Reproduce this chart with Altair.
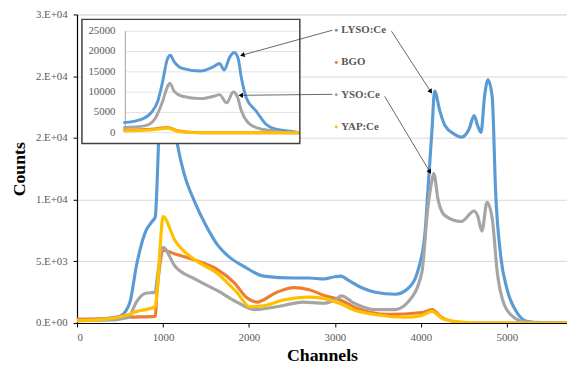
import math
import altair as alt
import pandas as pd

FONT = "Liberation Serif"

series = ["LYSO:Ce", "BGO", "YSO:Ce", "YAP:Ce"]
colors = ["#5B9BD5", "#ED7D31", "#A5A5A5", "#FFC000"]

# ---------------- main spectra (channel, counts) ----------------
lyso_ch = [0, 300, 500, 560, 620, 690, 800, 870, 910, 930, 950, 980, 1030, 1100, 1170, 1250, 1370, 1500,
           1630, 1780, 1940, 2170, 2520, 2700, 2870, 3000, 3070, 3150, 3300, 3470, 3700, 3850, 3970, 4050,
           4080, 4130, 4160, 4220, 4280, 4390, 4470, 4560, 4620, 4660, 4700, 4740, 4780, 4830, 4870, 4930,
           5000, 5110, 5230, 5400, 5700]
lyso_ct = [300, 350, 550, 900, 1800, 4600, 7450, 8200, 8600, 11000, 15000, 19500, 22000, 18000, 14400, 12000,
           9800, 7900, 6370, 5300, 4600, 3800, 3650, 3650, 3570, 3750, 3800, 3500, 2900, 2500, 2330, 2800,
           4350, 7450, 10560, 15700, 18800, 17200, 16000, 15300, 15060, 15700, 16800, 16000, 15450, 18300,
           19700, 18300, 10560, 5360, 2800, 930, 150, 30, 0]

bgo_ch = [0, 300, 600, 910, 930, 960, 1000, 1140, 1370, 1630, 1830, 1980, 2090, 2320, 2520, 2700, 2870,
          3070, 3240, 3620, 4010, 4130, 4240, 4400, 4600, 5700]
bgo_ct = [300, 350, 470, 540, 2500, 4500, 5900, 5600, 5100, 4350, 3260, 2020, 1700, 2480, 2870, 2700, 2250,
          1850, 1240, 700, 850, 1090, 470, 100, 0, 0]

yso_ch = [0, 400, 550, 600, 690, 790, 910, 930, 960, 1000, 1140, 1370, 1630, 1860, 2060, 2320, 2630, 2870,
          3000, 3080, 3200, 3470, 3700, 3850, 4010, 4080, 4130, 4150, 4200, 4280, 4470, 4620, 4660, 4710,
          4770, 4830, 4890, 4970, 5080, 5200, 5400, 5700]
yso_ct = [200, 250, 400, 470, 1700, 2400, 2500, 3500, 5000, 6130, 4600, 3570, 2640, 1700, 1090, 1320, 1700,
          1600, 1900, 2200, 1700, 1090, 1090, 1700, 4040, 9240, 11570, 12100, 10000, 8700, 8230, 9080, 8700,
          7450, 9780, 8460, 4040, 1480, 470, 100, 0, 0]

yap_ch = [0, 300, 600, 690, 910, 940, 970, 1000, 1140, 1370, 1630, 1860, 2010, 2170, 2400, 2700, 2870, 3050,
          3250, 3500, 3820, 4000, 4130, 4260, 4500, 4700, 5700]
yap_ct = [200, 300, 700, 930, 1320, 3260, 6500, 8620, 6680, 5120, 4040, 2480, 1320, 1400, 1860, 2100, 2000,
          1600, 1000, 650, 470, 600, 950, 320, 50, 0, 0]

# ---------------- inset spectra (relative position 0-100, counts) ----------------
in_lyso_x = [0, 10.3, 15.9, 19.6, 22.4, 24.9, 26.7, 29, 33.6, 43.9, 51.4, 54.8, 57.4, 60.7, 63.2, 65.4, 67.3,
             70.1, 75.7, 81.3, 86.9, 96.3, 100]
in_lyso_y = [2500, 3320, 4930, 7770, 12620, 17880, 19090, 17480, 15860, 15210, 16260, 17070, 15450, 18690,
             19740, 18280, 13430, 8580, 5340, 2100, 890, 320, 0]
in_yso_x = [0, 12.1, 17.8, 22.4, 25.2, 26.5, 29, 33.6, 43.9, 51.4, 54.8, 58.9, 62.6, 64.9, 67.3, 71, 76.6,
            85, 92.5, 100]
in_yso_y = [1300, 1700, 3320, 7770, 11400, 12200, 10190, 8980, 8400, 8980, 9390, 7360, 10030, 8980, 5340,
            2500, 1140, 490, 0, 0]
in_bgo_x = [0, 15.9, 25.2, 30.8, 40, 50, 100]
in_bgo_y = [650, 890, 1300, 490, 80, 0, 0]
in_yap_x = [0, 15.9, 25.2, 32, 40, 50, 100]
in_yap_y = [500, 700, 1100, 250, 30, 0, 0]

y_ticks = [0, 5000, 10000, 15000, 20000, 25000]
y_tick_labels = ["0.E+00", "5.E+03", "1.E+04", "2.E+04", "2.E+04", "3.E+04"]
x_ticks = [0, 1000, 2000, 3000, 4000, 5000]
inset_ticks = [0, 5000, 10000, 15000, 20000, 25000]

# ---------------- layout ----------------
W, H = 497, 313
X_MAX, Y_MAX = 5700, 25000
BOX = (5, 226, 5, 131)          # inset frame (x0, x1, y0, y1) in plot pixels
IN_XR = [47, 225]               # inset x range
IN_YR = [120, 17]               # inset y range
IN_AX = 49                      # inset y axis position

main_data = {
    "LYSO:Ce": (lyso_ch, lyso_ct),
    "BGO": (bgo_ch, bgo_ct),
    "YSO:Ce": (yso_ch, yso_ct),
    "YAP:Ce": (yap_ch, yap_ct),
}
inset_data = {
    "LYSO:Ce": (in_lyso_x, in_lyso_y),
    "BGO": (in_bgo_x, in_bgo_y),
    "YSO:Ce": (in_yso_x, in_yso_y),
    "YAP:Ce": (in_yap_x, in_yap_y),
}

color_scale = alt.Scale(domain=series, range=colors)

label_expr = " : ".join(
    f"datum.value == {v} ? '{l}'" for v, l in zip(y_ticks, y_tick_labels)
) + " : ''"

x_scale = alt.Scale(domain=[0, X_MAX], nice=False, zero=False)
y_scale = alt.Scale(domain=[0, Y_MAX], nice=False)

x_axis = alt.Axis(values=x_ticks, format="d", grid=False, domainColor="black", domainWidth=1.2,
                  tickColor="black", tickSize=4, labelFont=FONT, labelFontSize=11, labelColor="#595959",
                  labelPadding=5, title="Channels", titleFont=FONT, titleFontSize=18,
                  titleFontWeight="bold", titleColor="black", titleY=33, titleBaseline="middle")
y_axis = alt.Axis(values=y_ticks, labelExpr=label_expr, grid=True, gridColor="#D9D9D9", gridWidth=1,
                  domainColor="black", domainWidth=1.2, tickColor="black", tickSize=4, labelFont=FONT,
                  labelFontSize=11, labelColor="#595959", labelPadding=6, title="Counts", titleFont=FONT,
                  titleFontSize=18, titleFontWeight="bold", titleColor="black", titleAngle=270,
                  titleX=-58, titleY=H / 2, titleAlign="center", titleBaseline="middle")


def mx(field="ch"):
    return alt.X(f"{field}:Q", scale=x_scale, axis=x_axis)


def my(field="cnt"):
    return alt.Y(f"{field}:Q", scale=y_scale, axis=y_axis)


main_layers = []
for i, name in enumerate(series):
    ch, ct = main_data[name]
    df = pd.DataFrame({"ch": ch, "cnt": ct, "series": name})
    main_layers.append(
        alt.Chart(df).mark_line(strokeWidth=3.2, clip=True, interpolate="monotone").encode(
            x=mx(), y=my(), color=alt.Color("series:N", scale=color_scale, legend=None))
    )

# main arrows (start in pixels at legend labels, tip on peaks via data scales)
main_arrows_tip_ch = [4110, 4100]
main_arrows_tip_ct = [18800, 12300]
main_arrows_start = [(319, 17), (312, 83)]


def main_px(ch, ct):
    return ch / X_MAX * W, H - ct / Y_MAX * H


for (sx, sy), tch, tct in zip(main_arrows_start, main_arrows_tip_ch, main_arrows_tip_ct):
    df = pd.DataFrame({"ch": [tch], "cnt": [tct]})
    tx, ty = main_px(tch, tct)
    ang = math.degrees(math.atan2(tx - sx, -(ty - sy))) % 360
    main_layers.append(
        alt.Chart(df).mark_rule(color="#404040", strokeWidth=0.8).encode(
            x=mx(), x2=alt.value(sx), y=my(), y2=alt.value(sy))
    )
    main_layers.append(
        alt.Chart(df).mark_point(shape="triangle", filled=True, color="black", size=28, opacity=1,
                                 angle=ang).encode(x=mx(), y=my())
    )

main = alt.layer(*main_layers)

# ---------------- inset ----------------
ix_scale = alt.Scale(domain=[0, 100], range=IN_XR, nice=False, zero=False)
iy_scale = alt.Scale(domain=[0, 25000], range=IN_YR, nice=False)


def ix(field="ix"):
    return alt.X(f"{field}:Q", scale=ix_scale, axis=None)


def iy(field="iy"):
    return alt.Y(f"{field}:Q", scale=iy_scale, axis=None)


frame_df = pd.DataFrame({"a": [0]})
inset_layers = [
    alt.Chart(frame_df).mark_rect(fill="white", stroke="#404040", strokeWidth=1.5).encode(
        x=alt.value(BOX[0]), x2=alt.value(BOX[1]), y=alt.value(BOX[2]), y2=alt.value(BOX[3]))
]
tick_df = pd.DataFrame({"iy": inset_ticks, "lab": [str(t) for t in inset_ticks]})
inset_layers.append(
    alt.Chart(tick_df).mark_rule(color="#E3E3E3", strokeWidth=1).encode(
        x=alt.value(IN_AX), x2=alt.value(IN_XR[1]), y=iy())
)
inset_layers.append(
    alt.Chart(pd.DataFrame({"iy": [0], "iy2": [25000]})).mark_rule(color="#A0A0A0", strokeWidth=1).encode(
        x=alt.value(IN_AX), y=iy(), y2="iy2:Q")
)
inset_layers.append(
    alt.Chart(tick_df).mark_text(align="right", baseline="middle", font=FONT, fontSize=11,
                                 color="#595959").encode(
        x=alt.value(IN_AX - 10), y=iy(), text="lab:N")
)
for name in series:
    xs, ys = inset_data[name]
    df = pd.DataFrame({"ix": xs, "iy": ys, "series": name})
    inset_layers.append(
        alt.Chart(df).mark_line(strokeWidth=3, interpolate="monotone").encode(
            x=ix(), y=iy(), color=alt.Color("series:N", scale=color_scale, legend=None))
    )

# inset arrows
in_tip_x = [68.2, 67.3]
in_tip_y = [19170, 9220]
in_start = [(259, 16), (259, 81)]


def inset_px(x, y):
    px = IN_XR[0] + x / 100 * (IN_XR[1] - IN_XR[0])
    py = IN_YR[0] + y / 25000 * (IN_YR[1] - IN_YR[0])
    return px, py


for (sx, sy), tx_, ty_ in zip(in_start, in_tip_x, in_tip_y):
    df = pd.DataFrame({"ix": [tx_], "iy": [ty_]})
    tx, ty = inset_px(tx_, ty_)
    ang = math.degrees(math.atan2(tx - sx, -(ty - sy))) % 360
    inset_layers.append(
        alt.Chart(df).mark_rule(color="#404040", strokeWidth=0.8).encode(
            x=ix(), x2=alt.value(sx), y=iy(), y2=alt.value(sy))
    )
    inset_layers.append(
        alt.Chart(df).mark_point(shape="triangle", filled=True, color="black", size=28, opacity=1,
                                 angle=ang).encode(x=ix(), y=iy())
    )

# legend (dots + bold labels)
for i, name in enumerate(series):
    ly = 16 + i * 32.7
    ldf = pd.DataFrame({"series": [name]})
    inset_layers.append(
        alt.Chart(ldf).mark_point(filled=True, size=9, opacity=1, shape="circle").encode(
            x=alt.value(263), y=alt.value(ly),
            color=alt.Color("series:N", scale=color_scale, legend=None))
    )
    inset_layers.append(
        alt.Chart(ldf).mark_text(align="left", baseline="middle", font=FONT, fontSize=11,
                                 fontWeight="bold", color="#595959").encode(
            x=alt.value(268), y=alt.value(ly), text="series:N")
    )

inset = alt.layer(*inset_layers)

chart = alt.layer(main, inset).resolve_scale(x="independent", y="independent").properties(
    width=W, height=H,
    autosize=alt.AutoSizeParams(type="none"),
    padding={"left": 70, "top": 4, "right": 0, "bottom": 39},
).configure_view(stroke=None).configure(background="white")

chart.save("out.html", embed_options={"renderer": "svg", "actions": False})
